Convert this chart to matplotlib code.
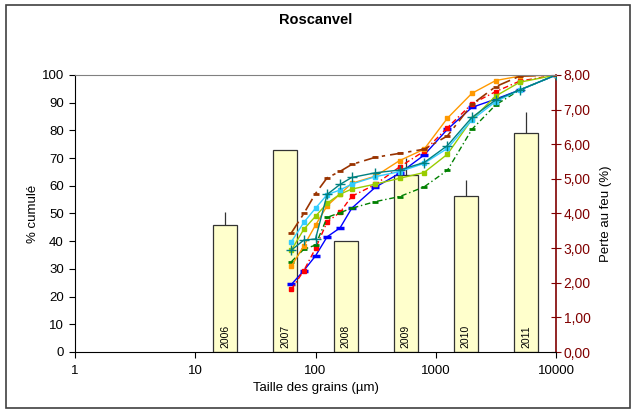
import numpy as np
import matplotlib.pyplot as plt
from matplotlib.patches import Rectangle
from matplotlib.ticker import FixedLocator, FuncFormatter, NullLocator

plt.rcParams['font.family'] = ['Liberation Sans', 'DejaVu Sans']

# grain size (um) and cumulative % for each sample
sizes = [63, 80, 100, 125, 160, 200, 315, 500, 800, 1250, 2000, 3150, 5000, 10000]

blue = [24.4, 29.4, 34.7, 41.6, 44.8, 51.9, 59.5, 64.5, 71.1, 80.4, 88.3, 91.3, 94.6, 100]
red = [22.6, 29.4, 37.4, 47.0, 50.4, 56.2, 60.5, 66.8, 72.5, 81.0, 89.6, 94.0, 97.8, 100]
green = [32.6, 37.1, 38.6, 48.6, 50.3, 51.9, 54.3, 56.1, 59.6, 65.6, 80.4, 89.2, 94.6, 100]
orange = [31.0, 38.3, 45.8, 52.8, 57.0, 60.9, 63.5, 69.1, 73.2, 84.4, 93.4, 98.0, 99.6, 100]
yellowgreen = [36.8, 44.3, 49.0, 53.7, 57.0, 58.8, 60.6, 62.7, 64.8, 71.4, 84.0, 92.4, 97.4, 100]
cyan = [39.8, 46.8, 51.9, 56.8, 58.5, 60.6, 63.3, 65.1, 68.1, 73.5, 83.8, 90.4, 94.6, 100]
teal = [36.8, 40.4, 40.8, 56.9, 60.5, 63.0, 64.7, 65.7, 68.4, 74.5, 84.7, 91.0, 94.6, 100]
brown = [43.0, 50.0, 57.2, 62.9, 65.2, 67.7, 70.3, 71.7, 73.2, 78.0, 89.4, 95.8, 99.6, 100]

# loss on ignition per year
years = ['2006', '2007', '2008', '2009', '2010', '2011']
perte = [3.66, 5.84, 3.22, 5.11, 4.51, 6.33]
perte_err = [0.38, 0.0, 0.0, 0.50, 0.46, 0.61]

dark_red = '#800000'

fig = plt.figure(figsize=(6.37, 4.12), dpi=100)
pos = [75 / 637, 1 - 352 / 412, (556 - 75) / 637, (352 - 75) / 412]

# bars (behind)
axb = fig.add_axes(pos, zorder=1)
xb = np.arange(len(years)) + 2.5
axb.bar(xb, perte, width=0.4, color='#FFFFCC', edgecolor='#333333', linewidth=0.9)
axb.errorbar(xb, perte, yerr=[np.zeros(len(perte)), perte_err], fmt='none',
             ecolor='#333333', elinewidth=0.9, capsize=0)
for x, y in zip(xb, years):
    axb.text(x, 0.12, y, rotation=90, ha='center', va='bottom', fontsize=7.5)
axb.set_xlim(0, 8)
axb.set_ylim(0, 8)
axb.xaxis.set_visible(False)
axb.yaxis.tick_right()
axb.yaxis.set_label_position('right')
axb.set_yticks(np.arange(0, 9, 1))
axb.yaxis.set_major_formatter(FuncFormatter(lambda v, p: f'{v:.2f}'.replace('.', ',')))
axb.tick_params(axis='y', direction='inout', length=7, color=dark_red,
                labelcolor=dark_red, labelsize=10, pad=2)
axb.set_ylabel('Perte au feu (%)', fontsize=9.5, labelpad=7)
for s in ['left', 'top', 'bottom']:
    axb.spines[s].set_visible(False)
axb.spines['right'].set_color(dark_red)
axb.spines['right'].set_linewidth(1.2)

# cumulative curves (front)
ax = fig.add_axes(pos, zorder=2)
ax.patch.set_visible(False)
ax.plot(sizes, blue, color='#0000FF', lw=1, marker='_', ms=6, mew=2.5)
ax.plot(sizes, red, color='#FF0000', lw=1, ls=(0, (4, 2, 1, 2)), marker='s', ms=3)
ax.plot(sizes, green, color='#008000', lw=1, ls=(0, (4, 2, 1, 2)), marker='_', ms=4, mew=2)
ax.plot(sizes, orange, color='#FF9900', lw=1, marker='s', ms=3)
ax.plot(sizes, yellowgreen, color='#99CC00', lw=1, marker='s', ms=3)
ax.plot(sizes, cyan, color='#33CCFF', lw=1, marker='s', ms=3)
ax.plot(sizes, teal, color='#008080', lw=1, marker='+', ms=7, mew=1)
ax.plot(sizes, brown, color='#993300', lw=1.2, ls=(0, (8, 3, 2, 3)), marker='_', ms=5, mew=2)

ax.set_xscale('log')
ax.set_xlim(1, 10000)
ax.set_ylim(0, 100)
ax.xaxis.set_major_locator(FixedLocator([1, 10, 100, 1000, 10000]))
ax.xaxis.set_major_formatter(FuncFormatter(lambda v, p: f'{v:g}'))
ax.xaxis.set_minor_locator(NullLocator())
ax.set_yticks(np.arange(0, 101, 10))
ax.tick_params(axis='both', direction='out', length=4, labelsize=9.5)
ax.tick_params(axis='x', pad=5)
ax.tick_params(axis='y', pad=4)
ax.set_xlabel('Taille des grains (µm)', fontsize=9.5, labelpad=4)
ax.set_ylabel('% cumulé', fontsize=9.5, labelpad=2)
ax.spines['right'].set_visible(False)
ax.spines['top'].set_color('#808080')
ax.set_title('Roscanvel', fontsize=10.5, fontweight='bold', pad=37)

fig.patches.append(Rectangle((6 / 637, 4 / 412), 624 / 637, 403 / 412, transform=fig.transFigure,
                             fill=False, edgecolor='#404040', linewidth=1.2))

fig.savefig('out.png', dpi=100)
